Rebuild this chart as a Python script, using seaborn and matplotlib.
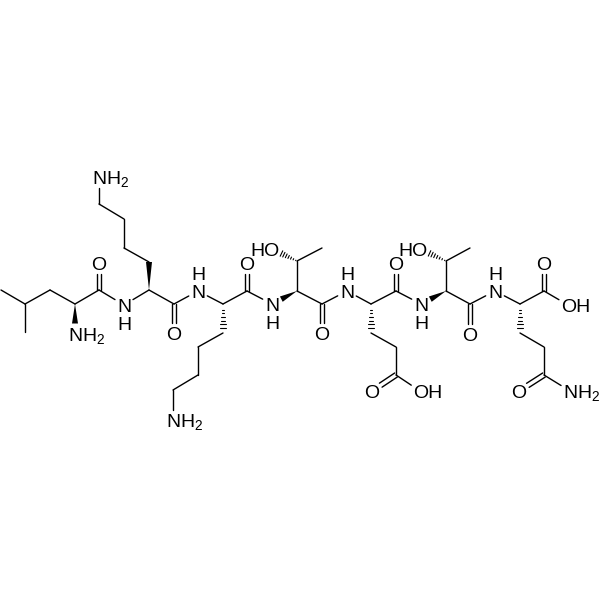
import numpy as np
import pandas as pd
import matplotlib.pyplot as plt
import seaborn as sns

sns.set_theme(style="white")
plt.rcParams["font.family"] = ["Liberation Sans", "DejaVu Sans"]
plt.rcParams["mathtext.default"] = "regular"

# Atom positions (pixels, y going down)
atom_x = [1, 25, 25, 50, 75, 75, 99, 99, 124, 149, 149, 124, 124, 99, 99,
          174, 174, 198, 223, 223, 198, 198, 173, 173, 247, 247, 272, 297, 297, 272, 322,
          322, 322, 347, 371, 371, 396, 396, 372, 420, 396, 396, 421, 446, 446, 420, 470,
          470, 470, 495, 520, 520, 544, 544, 519, 570, 544, 544, 568]
atom_y = [290, 304, 332, 290, 304, 334, 290, 263, 305, 290, 262, 248, 219, 204, 177,
          304, 333, 291, 304, 333, 347, 375, 390, 420, 291, 263, 304, 291, 261, 249, 248,
          304, 333, 291, 304, 333, 347, 375, 391, 391, 291, 263, 304, 291, 261, 249, 248,
          304, 334, 291, 304, 333, 347, 375, 391, 391, 291, 263, 305]

single_bonds = [(0, 1), (1, 2), (1, 3), (3, 4), (4, 6), (6, 8), (8, 9), (10, 11), (11, 12),
                (12, 13), (13, 14), (9, 15), (15, 17), (17, 18), (19, 20), (20, 21), (21, 22),
                (22, 23), (18, 24), (24, 26), (27, 28), (28, 30), (27, 31), (31, 33), (33, 34),
                (35, 36), (36, 37), (37, 39), (34, 40), (40, 42), (43, 44), (44, 46), (43, 47),
                (47, 49), (49, 50), (51, 52), (52, 53), (53, 55), (50, 56), (56, 58)]
double_bonds = [(6, 7), (15, 16), (24, 25), (31, 32), (37, 38), (40, 41), (47, 48), (53, 54), (56, 57)]
wedge_bonds = [(4, 5), (9, 10), (27, 26), (43, 42)]
hash_bonds = [(18, 19), (28, 29), (34, 35), (44, 45), (50, 51)]

label_atoms = [5, 7, 8, 14, 16, 17, 23, 25, 26, 29, 32, 33, 38, 39, 41, 42, 45, 48, 49, 54, 55, 57, 58]
label_text = ["NH$_2$", "O", "N", "NH$_2$", "O", "N", "NH$_2$", "O", "N", "HO", "O", "N", "O", "OH",
              "O", "N", "HO", "O", "N", "O", "NH$_2$", "O", "OH"]
h_below = [8, 26, 42]
h_above = [17, 33, 49]

labelled = set(label_atoms)


def trim(a, b, gap=10.5):
    # pull bond ends back from atom labels
    p, q = np.array([atom_x[a], atom_y[a]], float), np.array([atom_x[b], atom_y[b]], float)
    u = (q - p) / np.linalg.norm(q - p)
    if a in labelled:
        p = p + u * gap
    if b in labelled:
        q = q - u * gap
    return p, q, u


rows = []
for i, (a, b) in enumerate(single_bonds):
    p, q, u = trim(a, b)
    rows += [(f"s{i}", *p), (f"s{i}", *q)]
for i, (a, b) in enumerate(double_bonds):
    p, q, u = trim(a, b)
    n = np.array([-u[1], u[0]]) * 2.4
    rows += [(f"d{i}a", *(p + n)), (f"d{i}a", *(q + n)), (f"d{i}b", *(p - n)), (f"d{i}b", *(q - n))]
for i, (a, b) in enumerate(hash_bonds):
    p, q, u = trim(a, b)
    if b not in labelled:
        q = q - u * 5
    n = np.array([-u[1], u[0]])
    for k, t in enumerate(np.linspace(0.08, 1, 7)):
        c = p + (q - p) * t
        rows += [(f"h{i}_{k}", *(c + n * 3 * t)), (f"h{i}_{k}", *(c - n * 3 * t))]
bonds = pd.DataFrame(rows, columns=["bond", "x", "y"])

fig = plt.figure(figsize=(6, 6), dpi=100)
ax = fig.add_axes([0, 0, 1, 1])
sns.lineplot(data=bonds[~bonds.bond.str.startswith("h")], x="x", y="y", units="bond", estimator=None,
             sort=False, color="black", linewidth=1.0, legend=False, ax=ax)
sns.lineplot(data=bonds[bonds.bond.str.startswith("h")], x="x", y="y", units="bond", estimator=None,
             sort=False, color="black", linewidth=0.8, legend=False, ax=ax)

for a, b in wedge_bonds:
    p, q, u = trim(a, b)
    n = np.array([-u[1], u[0]]) * 3
    ax.fill([p[0], q[0] + n[0], q[0] - n[0]], [p[1], q[1] + n[1], q[1] - n[1]], color="black", lw=0)

fs = 14
for idx, txt in zip(label_atoms, label_text):
    x, y = atom_x[idx], atom_y[idx] + 7
    if txt == "O":
        ax.text(x, y, txt, ha="center", va="baseline", fontsize=fs, color="black")
    elif txt == "HO":
        ax.text(x + 7.5, y, txt, ha="right", va="baseline", fontsize=fs, color="black")
    else:
        ax.text(x - 7, y, txt, ha="left", va="baseline", fontsize=fs, color="black")
for idx in h_below:
    ax.text(atom_x[idx], atom_y[idx] + 25, "H", ha="center", va="baseline", fontsize=fs, color="black")
for idx in h_above:
    ax.text(atom_x[idx], atom_y[idx] - 11, "H", ha="center", va="baseline", fontsize=fs, color="black")

ax.set_xlim(0, 600)
ax.set_ylim(600, 0)
ax.axis("off")
fig.savefig("out.png", dpi=100, facecolor="white")
